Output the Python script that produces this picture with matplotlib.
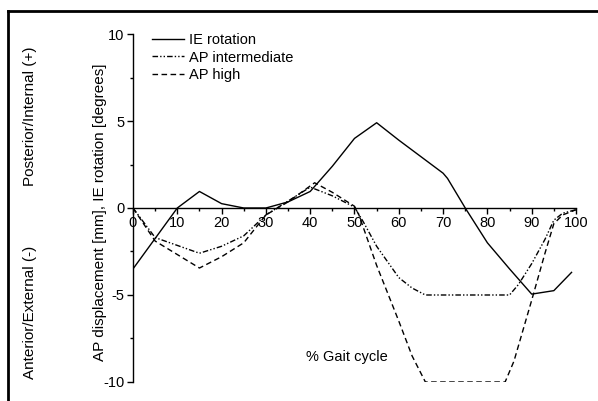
import matplotlib
matplotlib.use("Agg")
import matplotlib.pyplot as plt
from matplotlib.lines import Line2D

plt.rcParams['font.family'] = ['Liberation Sans', 'DejaVu Sans']
plt.rcParams['axes.unicode_minus'] = False

# % gait cycle values
ie_x = [0, 10, 15, 20, 25, 30, 35, 40, 45, 50, 55, 60, 65, 70, 71, 75, 80, 85, 90, 95, 99]
ie_y = [-3.5, 0.0, 0.95, 0.25, 0.0, 0.0, 0.35, 0.95, 2.4, 4.0, 4.9, 3.9, 2.95, 2.0, 1.7, 0.0, -2.0, -3.5, -4.95, -4.75, -3.7]

api_x = [0, 5, 15, 20, 25, 30, 35, 40, 45, 50, 52, 55, 60, 63, 66, 70, 75, 80, 85, 87, 90, 93, 95, 97, 100]
api_y = [0.0, -1.7, -2.6, -2.2, -1.6, -0.4, 0.4, 1.2, 0.7, 0.05, -0.8, -2.2, -4.0, -4.6, -5.0, -5.0, -5.0, -5.0, -5.0, -4.4, -3.2, -1.8, -0.7, -0.3, -0.1]

aph_x = [0, 5, 15, 20, 25, 30, 35, 41, 45, 50, 51, 55, 60, 63, 66, 70, 75, 80, 84, 86, 90, 93, 95, 97, 100]
aph_y = [0.0, -1.9, -3.45, -2.8, -2.0, -0.4, 0.35, 1.45, 0.9, 0.1, -0.4, -3.3, -6.5, -8.5, -10.0, -10.0, -10.0, -10.0, -10.0, -8.8, -5.3, -2.6, -0.9, -0.4, -0.1]

fig = plt.figure(figsize=(5.98, 4.01), dpi=100)
ax = fig.add_axes([0.2224, 0.0474, 0.7408, 0.8678])

ax.plot(ie_x, ie_y, color='black', lw=1.0, label='IE rotation')
ax.plot(api_x, api_y, color='black', lw=1.0, linestyle=(0, (4, 1.5, 1, 1.5, 1, 1.5)), label='AP intermediate')
ax.plot(aph_x, aph_y, color='black', lw=1.0, linestyle=(0, (4, 2.5)), label='AP high')

ax.set_xlim(0, 100)
ax.set_ylim(-10, 10)
ax.spines['top'].set_visible(False)
ax.spines['right'].set_visible(False)
ax.spines['bottom'].set_position(('data', 0))
ax.spines['left'].set_linewidth(1.0)
ax.spines['bottom'].set_linewidth(1.0)

ax.set_xticks(range(0, 101, 10))
ax.set_xticks(range(5, 100, 10), minor=True)
ax.set_yticks([-10, -5, 0, 5, 10])
ax.set_yticks([-7.5, -2.5, 2.5, 7.5], minor=True)
ax.tick_params(axis='both', which='major', direction='out', length=4, width=1, labelsize=10.5, pad=2)
ax.tick_params(axis='both', which='minor', direction='out', length=2.5, width=1)

ax.text(48.3, -8.55, '% Gait cycle', fontsize=10.5, ha='center', va='center')

ax.legend(loc='upper left', bbox_to_anchor=(0.03, 1.02), frameon=False, fontsize=10.5,
          handlelength=2.2, handletextpad=0.35, labelspacing=0.25, borderaxespad=0)

fig.text(100 / 598, 1 - 212 / 401, 'AP displacement [mm], IE rotation [degrees]',
         rotation=90, ha='center', va='center', fontsize=11)
fig.text(30 / 598, 1 - 116 / 401, 'Posterior/Internal (+)', rotation=90, ha='center', va='center', fontsize=11)
fig.text(30 / 598, 1 - 312 / 401, 'Anterior/External (-)', rotation=90, ha='center', va='center', fontsize=11)

# frame along top and left edge of the figure
fig.add_artist(Line2D([7.5 / 598, 1.0], [1 - 11 / 401, 1 - 11 / 401], color='black', lw=2, transform=fig.transFigure))
fig.add_artist(Line2D([7.5 / 598, 7.5 / 598], [0.0, 1 - 11 / 401], color='black', lw=2, transform=fig.transFigure))

fig.savefig('out.png', dpi=100)
